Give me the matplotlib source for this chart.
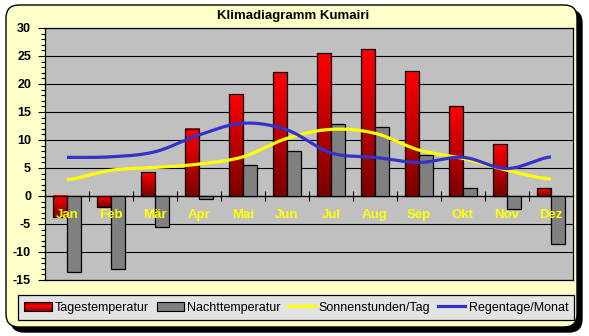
import numpy as np
import matplotlib
matplotlib.use('Agg')
import matplotlib.pyplot as plt
from matplotlib.patches import FancyBboxPatch, Rectangle
from matplotlib.colors import LinearSegmentedColormap
from matplotlib.legend_handler import HandlerBase
from matplotlib.lines import Line2D
from matplotlib.transforms import IdentityTransform

plt.rcParams['font.family'] = ['Liberation Sans', 'DejaVu Sans']
plt.rcParams['axes.unicode_minus'] = False

#--monthly climate values for Kumairi
months = ['Jan', 'Feb', 'Mär', 'Apr', 'Mai', 'Jun', 'Jul', 'Aug', 'Sep', 'Okt', 'Nov', 'Dez']
tag = [-3.8, -1.9, 4.2, 12.0, 18.2, 22.1, 25.5, 26.2, 22.3, 16.0, 9.2, 1.4]
nacht = [-13.6, -13.1, -5.6, -0.6, 5.5, 8.0, 12.8, 12.3, 7.3, 1.4, -2.4, -8.6]
sonne = [2.9, 4.6, 5.1, 5.7, 7.0, 10.3, 11.9, 11.2, 8.2, 6.7, 4.6, 3.0]
regen = [6.9, 7.0, 7.9, 10.9, 13.0, 11.8, 7.7, 6.9, 6.0, 6.9, 4.9, 7.0]

ymin, ymax = -15, 30
bg_yellow = '#FFFFC8'
red_cmap = LinearSegmentedColormap.from_list('redgrad', ['#7A0000', '#FF0000'])


def smooth(y, n=24):
  #--uniform catmull-rom curve through the monthly points
  y = np.asarray(y, dtype=float)
  p = np.concatenate([[y[0]], y, [y[-1]]])
  xs = [] ; ys = []
  t = np.linspace(0, 1, n, endpoint=False)
  for i in range(len(y) - 1):
    p0, p1, p2, p3 = p[i], p[i+1], p[i+2], p[i+3]
    seg = 0.5 * ((2*p1) + (-p0 + p2)*t + (2*p0 - 5*p1 + 4*p2 - p3)*t**2 + (-p0 + 3*p1 - 3*p2 + p3)*t**3)
    xs.extend(i + t) ; ys.extend(seg)
  xs.append(len(y) - 1) ; ys.append(y[-1])
  return np.array(xs), np.array(ys)


class GradientHandler(HandlerBase):
  def create_artists(self, legend, orig_handle, xdescent, ydescent, width, height, fontsize, trans):
    n = 12
    arts = []
    for k in range(n):
      frac = 1 - abs((k + 0.5) / n - 0.5) * 2
      arts.append(Rectangle((-xdescent, -ydescent + k*height/n), width, height/n,
                            facecolor=red_cmap(0.2 + 0.8*frac), edgecolor='none', transform=trans))
    arts.append(Rectangle((-xdescent, -ydescent), width, height, fill=False,
                          edgecolor='black', lw=0.8, transform=trans))
    return arts


fig = plt.figure(figsize=(5.89, 3.36), dpi=100)
fig.patch.set_facecolor('white')

#--rounded yellow panel with drop shadow (pixel coordinates)
shadow = FancyBboxPatch((11, 4), 571, 322, boxstyle='round,pad=0,rounding_size=13',
                        facecolor='black', edgecolor='black', transform=IdentityTransform(), zorder=-2)
panel = FancyBboxPatch((6, 9), 571, 322, boxstyle='round,pad=0,rounding_size=13',
                       facecolor=bg_yellow, edgecolor='black', lw=1.0, transform=IdentityTransform(), zorder=-1)
fig.add_artist(shadow)
fig.add_artist(panel)

ax = fig.add_axes([45/589, 56/336, 528/589, 252/336])
ax.set_facecolor('#C0C0C0')

x = np.arange(len(months))
w = 0.325

#--day temperature bars with vertical red gradient
grad = np.linspace(0, 1, 64).reshape(-1, 1)
for xi, v in zip(x, tag):
  x0 = xi - w
  ax.imshow(grad, extent=[x0, x0 + w, min(v, 0), max(v, 0)], cmap=red_cmap,
            aspect='auto', origin='lower', zorder=2.9, interpolation='bilinear')
ax.bar(x - w/2, tag, w, facecolor='none', edgecolor='black', lw=0.9, zorder=3)
ax.bar(x + w/2, nacht, w, facecolor='#808080', edgecolor='black', lw=0.9, zorder=3)

xs, ys = smooth(sonne)
ax.plot(xs, ys, color='#FFFF00', lw=2.3, zorder=4, solid_capstyle='butt')
xs, ys = smooth(regen)
ax.plot(xs, ys, color='#3333CC', lw=2.3, zorder=4.1, solid_capstyle='butt')

for xi, m in zip(x, months):
  ax.text(xi, -3.4, m, ha='center', va='center', color='#FFFF00',
          fontsize=9.5, fontweight='bold', zorder=6)

ax.set_xlim(-0.5, len(months) - 0.5)
ax.set_ylim(ymin, ymax)
ax.set_xticks([])
ax.set_yticks(np.arange(ymin, ymax + 1, 5))
ax.set_yticks(np.arange(ymin, ymax + 1, 1), minor=True)
ax.tick_params(axis='y', which='major', length=5, width=0.8, labelsize=9, pad=5)
ax.tick_params(axis='y', which='minor', length=3, width=0.8)
for lab in ax.get_yticklabels():
  lab.set_fontweight('bold')
ax.yaxis.grid(True, color='black', lw=0.8)
ax.set_axisbelow(True)
for sp in ax.spines.values():
  sp.set_linewidth(0.9)

#--category axis crossing at zero
sec = ax.secondary_xaxis((0 - ymin) / (ymax - ymin))
sec.set_xticks(np.arange(0.5, len(months) - 1, 1))
sec.tick_params(direction='inout', length=7, width=0.8, labelbottom=False)
sec.spines['bottom'].set_linewidth(0.9)

fig.text(293/589, 1 - 16/336, 'Klimadiagramm Kumairi', ha='center', va='center',
         fontsize=9.5, fontweight='bold')

handles = [Rectangle((0, 0), 1, 1),
           Rectangle((0, 0), 1, 1, facecolor='#808080', edgecolor='black', lw=0.8),
           Line2D([], [], color='#FFFF00', lw=2.3),
           Line2D([], [], color='#3333CC', lw=2.3)]
labels = ['Tagestemperatur', 'Nachttemperatur', 'Sonnenstunden/Tag', 'Regentage/Monat']
leg = fig.legend(handles, labels, loc='center left', bbox_to_anchor=(18/589, 1 - 307.5/336),
                 ncol=4, fontsize=9.0, frameon=True, fancybox=False, shadow=False,
                 handlelength=2.2, handletextpad=0.25, columnspacing=0.6, borderpad=0.5,
                 borderaxespad=0, handler_map={handles[0]: GradientHandler()})
leg.get_frame().set_facecolor('#E3E3E3')
leg.get_frame().set_edgecolor('black')
leg.get_frame().set_linewidth(0.9)
leg.get_frame().set_alpha(1)

fig.savefig('out.png', dpi=100, facecolor='white')
